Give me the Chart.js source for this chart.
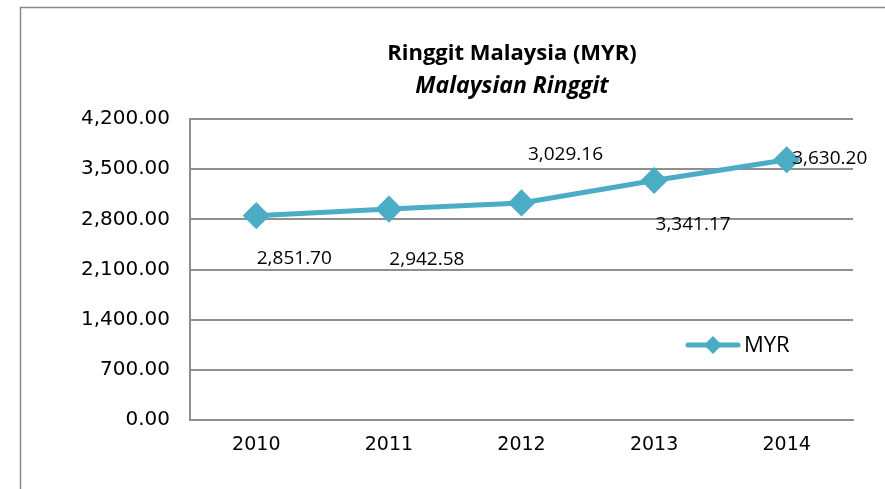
<!DOCTYPE html>
<html>
<head>
<meta charset="utf-8">
<script src="https://cdn.jsdelivr.net/npm/chart.js@4"></script>
<style>
  html, body { margin: 0; padding: 0; background: #fff; }
  #wrap { width: 885px; height: 489px; position: relative; }
</style>
</head>
<body>
<div id="wrap"><canvas id="myrChart" width="885" height="489"></canvas></div>
<script>
// Ringgit Malaysia line chart

const years = ['2010', '2011', '2012', '2013', '2014'];
const myrValues = [2851.70, 2942.58, 3029.16, 3341.17, 3630.20];
const seriesName = 'MYR';
const titleLines = ['Ringgit Malaysia (MYR)', 'Malaysian Ringgit'];

// where each value label sits relative to its point (dx, dy)
const labelOffsets = [[38, 43], [38, 50], [44, -48], [39, 44], [43, -1]];

const lineColor = '#4BACC6';
const gridColor = '#8f8f8f';

function formatMoney(v) {
  return v.toLocaleString('en-US', { minimumFractionDigits: 2, maximumFractionDigits: 2 });
}

// Frame, title, value labels and legend
const decorPlugin = {
  id: 'decor',
  beforeDraw(chart) {
    const ctx = chart.ctx;
    ctx.save();
    ctx.strokeStyle = '#8a8a8a';
    ctx.lineWidth = 1.5;
    ctx.beginPath();
    ctx.moveTo(20.5, 489);
    ctx.lineTo(20.5, 7.5);
    ctx.lineTo(885, 7.5);
    ctx.stroke();
    ctx.restore();
  },
  afterDatasetsDraw(chart) {
    const ctx = chart.ctx;
    ctx.save();
    ctx.fillStyle = '#000';
    ctx.textAlign = 'center';
    ctx.textBaseline = 'middle';
    ctx.font = 'bold 22px "Open Sans"';
    ctx.fillText(titleLines[0], 512, 54);
    ctx.font = 'italic bold 23px "Open Sans"';
    ctx.fillText(titleLines[1], 512, 86);

    // value labels
    ctx.font = '19px "Open Sans"';
    const meta = chart.getDatasetMeta(0);
    meta.data.forEach((pt, i) => {
      const off = labelOffsets[i];
      ctx.fillText(formatMoney(myrValues[i]), pt.x + off[0], pt.y + off[1]);
    });

    // legend
    const ly = 345;
    ctx.strokeStyle = lineColor;
    ctx.lineWidth = 5;
    ctx.lineCap = 'round';
    ctx.beginPath();
    ctx.moveTo(688, ly);
    ctx.lineTo(738, ly);
    ctx.stroke();
    ctx.fillStyle = lineColor;
    ctx.beginPath();
    ctx.moveTo(713, ly - 9);
    ctx.lineTo(722, ly);
    ctx.lineTo(713, ly + 9);
    ctx.lineTo(704, ly);
    ctx.closePath();
    ctx.fill();
    ctx.fillStyle = '#000';
    ctx.textAlign = 'left';
    ctx.font = '22px "Open Sans"';
    ctx.fillText(seriesName, 744, ly + 1);
    ctx.restore();
  }
};

new Chart(document.getElementById('myrChart'), {
  type: 'line',
  data: {
    labels: years,
    datasets: [{
      label: seriesName,
      data: myrValues,
      borderColor: lineColor,
      backgroundColor: lineColor,
      borderWidth: 5,
      pointStyle: 'rectRot',
      pointRadius: 10,
      pointHoverRadius: 10,
      tension: 0,
      fill: false
    }]
  },
  options: {
    responsive: false,
    animation: false,
    layout: { padding: { top: 119, right: 32, left: 0, bottom: 0 } },
    plugins: {
      legend: { display: false },
      title: { display: false },
      tooltip: { enabled: false }
    },
    scales: {
      x: {
        offset: true,
        grid: { display: false, drawTicks: false },
        border: { display: true, color: gridColor, width: 2 },
        ticks: { color: '#000', padding: 14, font: { family: 'DejaVu Sans', size: 19 } },
        afterFit(scale) { scale.height = 69; }
      },
      y: {
        min: 0,
        max: 4200,
        grid: { color: gridColor, lineWidth: 2, drawTicks: false },
        border: { display: true, color: gridColor, width: 2 },
        ticks: {
          stepSize: 700,
          color: '#000',
          padding: 20,
          font: { family: 'DejaVu Sans', size: 20 },
          callback: v => formatMoney(v)
        },
        afterFit(scale) { scale.width = 190; }
      }
    }
  },
  plugins: [decorPlugin]
});
</script>
</body>
</html>
